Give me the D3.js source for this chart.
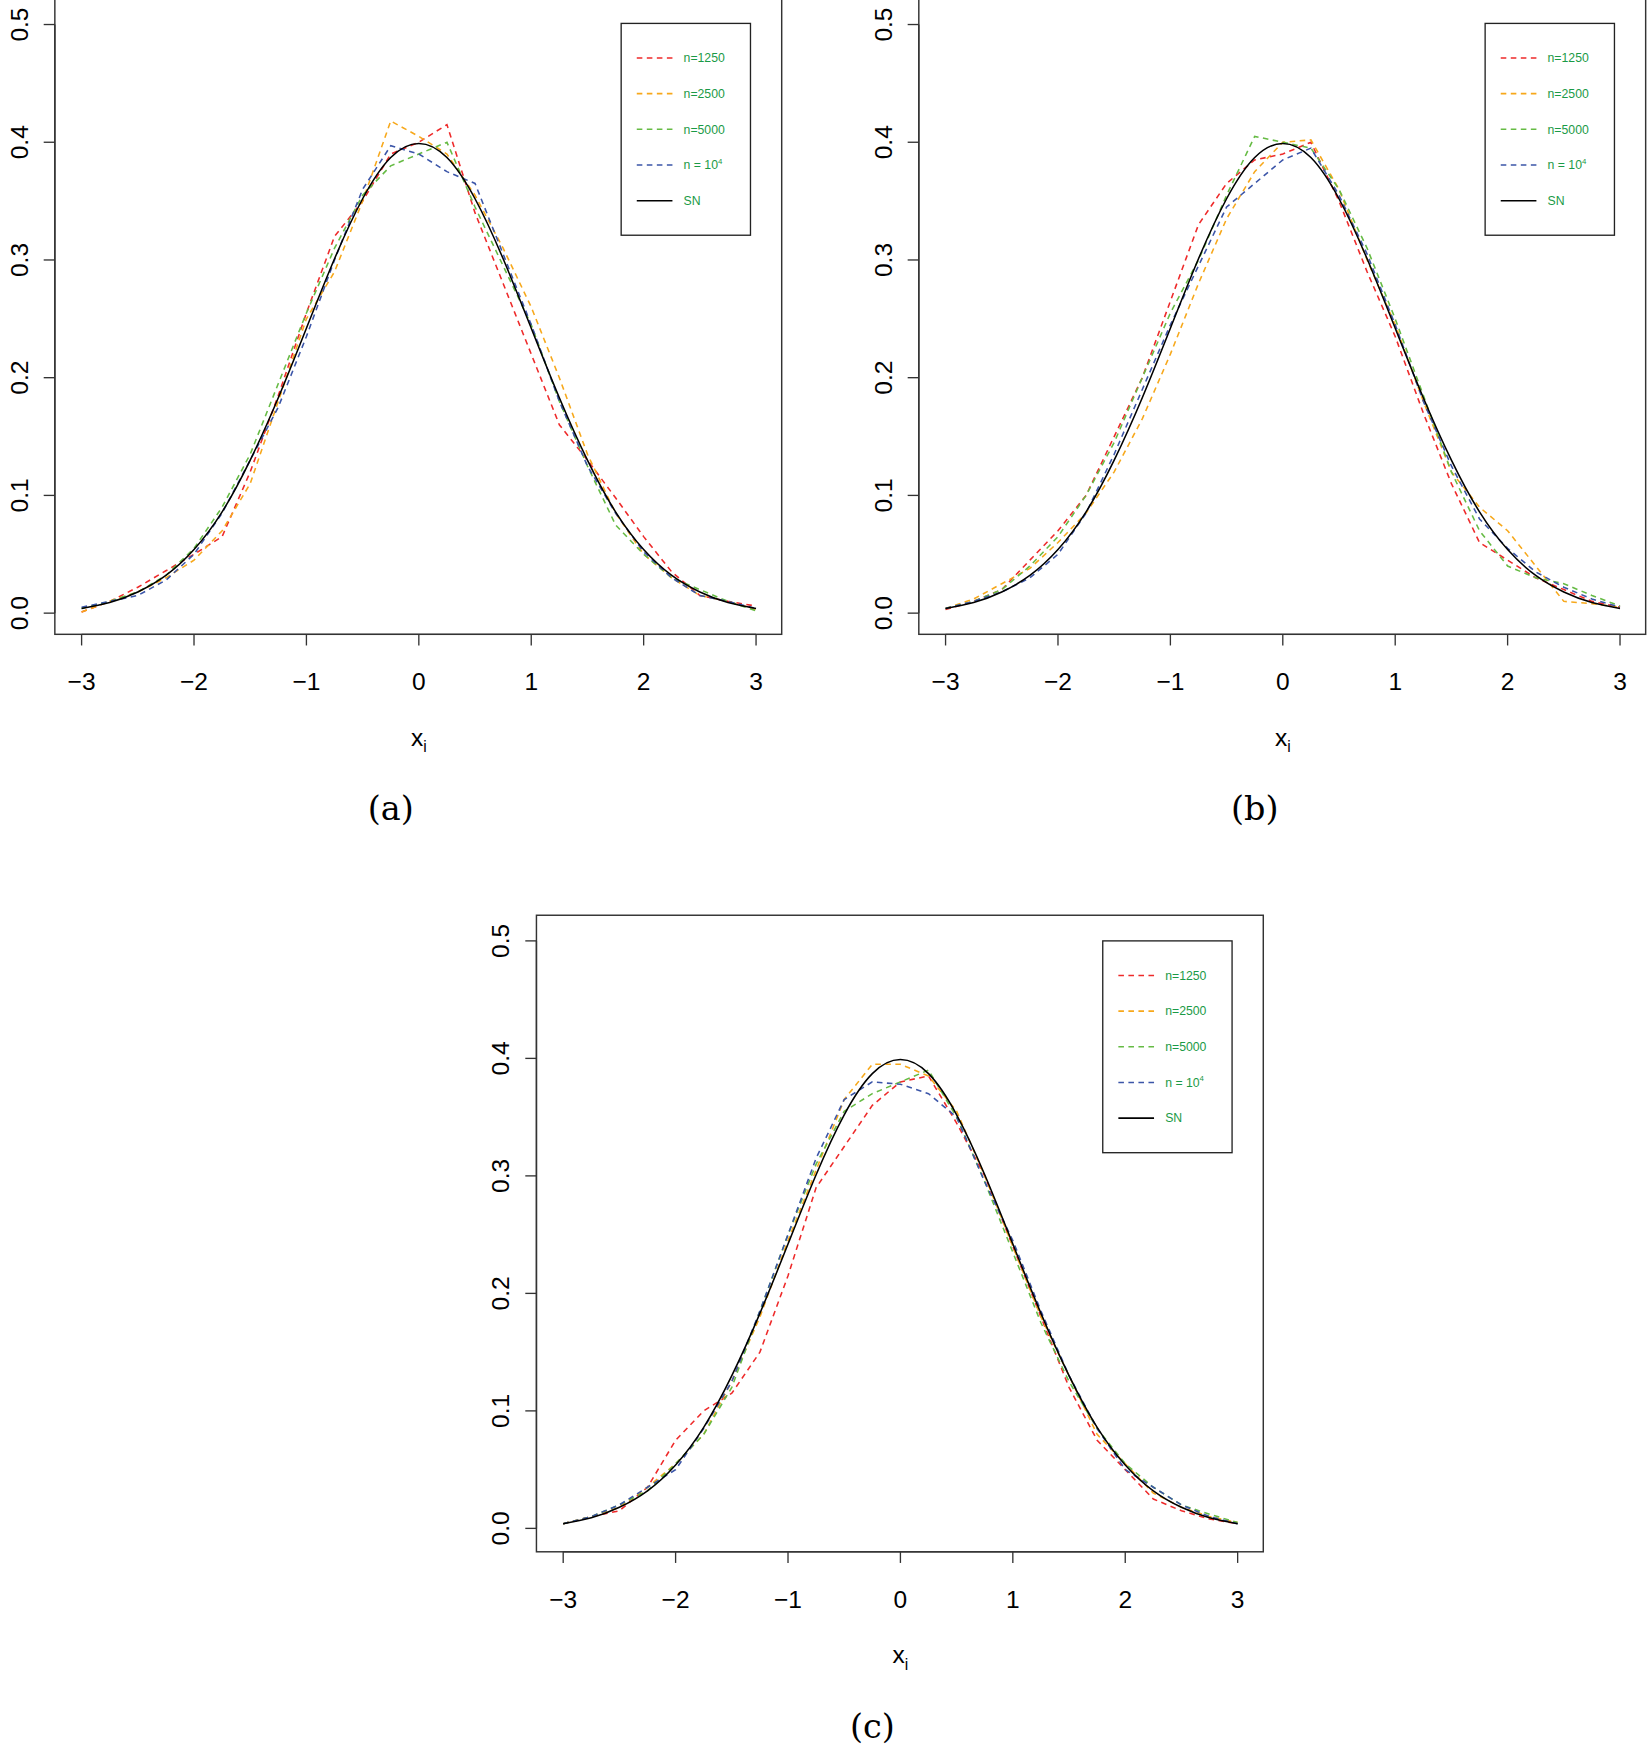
<!DOCTYPE html>
<html><head><meta charset="utf-8">
<script src="https://cdn.jsdelivr.net/npm/d3@7"></script>
<style>body{margin:0;background:#fff}</style>
</head><body>
<div id="chart"></div>
<script>
// grid of evaluation points shared by every curve
var xs = [-3,-2.75,-2.5,-2.25,-2,-1.75,-1.5,-1.25,-1,-0.75,-0.5,-0.25,0,0.25,0.5,0.75,1,1.25,1.5,1.75,2,2.25,2.5,2.75,3];
var sn = [.004,.009,.018,.032,.054,.086,.130,.183,.242,.301,.352,.387,.399,.387,.352,.301,.242,.183,.130,.086,.054,.032,.018,.009,.004];

var aRed    = [.001,.010,.022,.036,.050,.065,.120,.185,.255,.320,.350,.390,.400,.415,.340,.280,.220,.160,.130,.098,.065,.035,.015,.010,.006];
var aOrange = [.001,.010,.018,.030,.045,.070,.110,.180,.250,.290,.350,.418,.405,.390,.355,.310,.260,.200,.135,.085,.050,.030,.015,.010,.003];
var aGreen  = [.004,.010,.018,.032,.055,.090,.135,.195,.255,.310,.355,.380,.390,.400,.345,.295,.245,.180,.125,.075,.050,.030,.020,.010,.002];
var aBlue   = [.005,.010,.015,.028,.050,.085,.130,.175,.235,.300,.360,.397,.390,.375,.365,.305,.245,.180,.125,.085,.052,.030,.015,.010,.004];

var bRed    = [.003,.010,.020,.045,.070,.100,.150,.200,.265,.330,.365,.385,.390,.400,.350,.290,.235,.170,.110,.060,.045,.030,.020,.010,.005];
var bOrange = [.004,.012,.025,.038,.060,.085,.120,.165,.220,.280,.335,.375,.400,.402,.360,.300,.245,.180,.120,.090,.070,.040,.010,.008,.005];
var bGreen  = [.004,.010,.020,.040,.065,.100,.145,.200,.255,.300,.355,.405,.400,.395,.360,.310,.250,.185,.120,.070,.040,.030,.025,.015,.006];
var bBlue   = [.004,.010,.018,.030,.050,.085,.135,.190,.245,.295,.345,.365,.385,.395,.355,.305,.245,.180,.125,.080,.055,.035,.022,.012,.005];

var cRed    = [.004,.010,.015,.035,.075,.100,.115,.150,.215,.290,.325,.360,.380,.385,.345,.300,.240,.180,.120,.075,.050,.025,.015,.008,.004];
var cOrange = [.004,.010,.018,.035,.055,.080,.125,.180,.245,.305,.365,.395,.395,.385,.355,.300,.240,.180,.130,.080,.055,.030,.018,.010,.005];
var cGreen  = [.004,.010,.020,.032,.055,.080,.120,.185,.250,.310,.355,.370,.380,.390,.350,.295,.235,.175,.125,.085,.055,.035,.020,.012,.005];
var cBlue   = [.004,.010,.020,.035,.050,.085,.125,.185,.250,.315,.365,.380,.378,.370,.350,.295,.245,.185,.130,.085,.050,.035,.020,.010,.004];

var xTicks = [-3,-2,-1,0,1,2,3];
var yTicks = [0,0.1,0.2,0.3,0.4,0.5];
var legendLabels = ["n=1250","n=2500","n=5000","n = 10","SN"];
var colors = ["#ee2a2a","#f7a81b","#66bb44","#3b55a8","#000"];

var panels = [
  {cap:"(a)", left:49, top:-2, series:[aRed,aOrange,aGreen,aBlue]},
  {cap:"(b)", left:824, top:-2, series:[bRed,bOrange,bGreen,bBlue]},
  {cap:"(c)", left:481, top:821, series:[cRed,cOrange,cGreen,cBlue]}
];

var svg = d3.select("#chart").append("svg")
  .attr("width",1647).attr("height",1748)
  .attr("viewBox","0 0 1477 1568");

panels.forEach(function(p){
  var g = svg.append("g").attr("transform","translate("+p.left+","+p.top+")");
  var w = 652, h = 571;
  var x = d3.scaleLinear().domain([-3,3]).range([24,629]);
  var y = d3.scaleLinear().domain([0,0.5]).range([h-21,23]);
  if (p.top < 0) y.range([h-19,24]);

  g.append("rect").attr("width",w).attr("height",h).attr("fill","none").attr("stroke","#333").attr("stroke-width",1.3);

  // x axis (R style, detached)
  var xa = g.append("g").attr("transform","translate(0,"+h+")");
  xa.append("line").attr("x1",x(-3)).attr("x2",x(3)).attr("stroke","#333").attr("stroke-width",1.2);
  xTicks.forEach(function(t){
    xa.append("line").attr("x1",x(t)).attr("x2",x(t)).attr("y2",10).attr("stroke","#333").attr("stroke-width",1.2);
    xa.append("text").attr("x",x(t)).attr("y",50).attr("text-anchor","middle")
      .style("font","22px 'Liberation Sans',Arial").text(t<0?"\u2212"+(-t):t);
  });
  // y axis
  var ya = g.append("g");
  ya.append("line").attr("y1",y(0)).attr("y2",y(0.5)).attr("stroke","#333").attr("stroke-width",1.2);
  yTicks.forEach(function(t){
    ya.append("line").attr("x2",-10).attr("y1",y(t)).attr("y2",y(t)).attr("stroke","#333").attr("stroke-width",1.2);
    ya.append("text").attr("transform","translate(-32,"+y(t)+") rotate(-90)").attr("text-anchor","middle")
      .attr("dy","0.35em").style("font","22px 'Liberation Sans',Arial").text(t.toFixed(1));
  });

  var xl = g.append("text").attr("x",x(0)).attr("y",h+100).attr("text-anchor","middle")
    .style("font","22px 'Liberation Sans',Arial");
  xl.append("tspan").text("x");
  xl.append("tspan").attr("font-size","14px").attr("dy","6").text("i");

  g.append("text").attr("x",x(-0.25)).attr("y",h+167).attr("text-anchor","middle")
    .style("font","30px 'DejaVu Serif','Liberation Serif',serif").text(p.cap);

  var line = d3.line().x(function(d,i){return x(xs[i]);}).y(function(d){return y(d);});
  p.series.forEach(function(s,k){
    g.append("path").datum(s).attr("d",line).attr("fill","none")
      .attr("stroke",colors[k]).attr("stroke-width",1.4).attr("stroke-dasharray","5,4");
  });
  g.append("path").datum(sn).attr("d",line.curve(d3.curveNatural)).attr("fill","none")
    .attr("stroke","#000").attr("stroke-width",1.4);

  // legend
  var lg = g.append("g").attr("transform","translate(508,23)");
  lg.append("rect").attr("width",116).attr("height",190).attr("fill","#fff").attr("stroke","#222").attr("stroke-width",1.2);
  legendLabels.forEach(function(l,k){
    var ly = 31 + k*32;
    lg.append("line").attr("x1",14).attr("x2",46).attr("y1",ly).attr("y2",ly)
      .attr("stroke",colors[k]).attr("stroke-width",1.4).attr("stroke-dasharray",k<4?"5,4":null);
    var t = lg.append("text").attr("x",56).attr("y",ly).attr("dy","0.35em").attr("fill","#1a9a46")
      .style("font","11px 'Liberation Sans',Arial").text(l);
    if (k==3) t.append("tspan").attr("font-size","7px").attr("dy","-5").text("4");
  });
});
</script>
</body></html>
